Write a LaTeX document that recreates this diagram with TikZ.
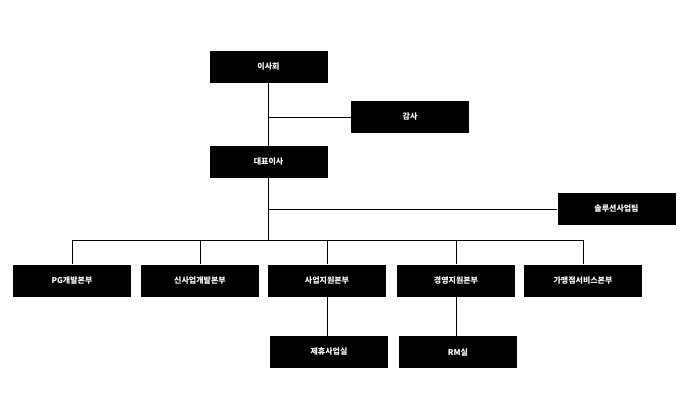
\documentclass[tikz,border=0pt]{standalone}
\usepackage{fontspec}
\newfontfamily\kr{Noto Sans CJK KR}
\begin{document}
\begin{tikzpicture}[x=1pt,y=-1pt,
  box/.style={fill=black,text=white,minimum width=118pt,minimum height=32pt,inner sep=0pt,font=\kr\fontsize{8}{9}\selectfont\bfseries},
  ln/.style={draw=black,line width=0.6pt}]
\useasboundingbox (0,0) rectangle (697,402);
\node[box] (a) at (268.5,67) {이사회};
\node[box] (b) at (410,117) {감사};
\node[box] (c) at (268.5,162) {대표이사};
\node[box] (d) at (616.5,209) {솔루션사업팀};
\node[box] (e1) at (72,280.5) {PG개발본부};
\node[box] (e2) at (200,280.5) {신사업개발본부};
\node[box] (e3) at (327,280.5) {사업지원본부};
\node[box] (e4) at (456,280.5) {경영지원본부};
\node[box] (e5) at (583,280.5) {가맹점서비스본부};
\node[box] (f1) at (329,352) {제휴사업실};
\node[box] (f2) at (458,352) {RM실};
\coordinate (j) at (268.5,240);
\draw[ln] (a.south) -- (c.north);
\draw[ln] (268.5,117) -- (b.west);
\draw[ln] (c.south) -- (j);
\draw[ln] (268.5,209) -- (d.west);
\draw[ln] (e1.north |- j) -- (e5.north |- j);
\foreach \n in {e1,e2,e3,e4,e5} \draw[ln] (\n.north |- j) -- (\n.north);
\draw[ln] (e3.south) -- (e3.south |- f1.north);
\draw[ln] (e4.south) -- (e4.south |- f2.north);
\end{tikzpicture}
\end{document}
